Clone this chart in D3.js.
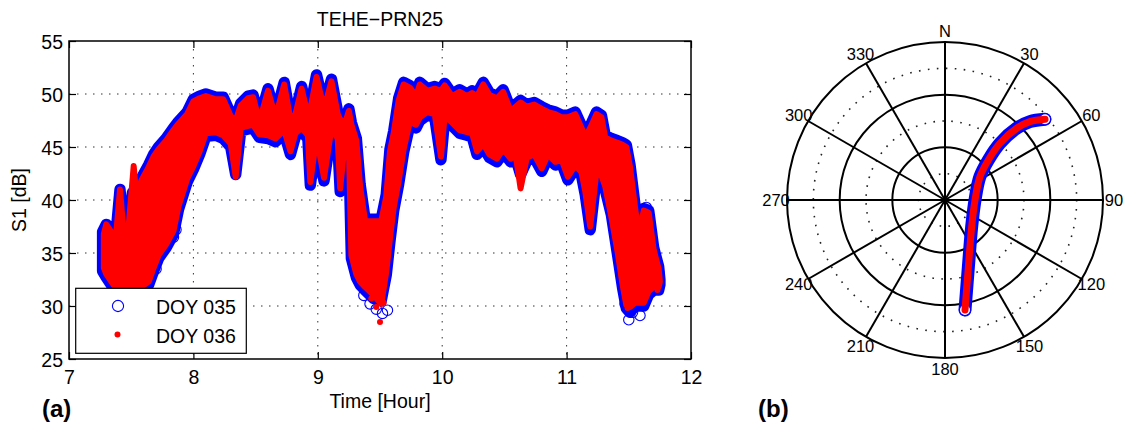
<!DOCTYPE html>
<html>
<head>
<meta charset="utf-8">
<script src="https://cdn.jsdelivr.net/npm/d3@7"></script>
<style>
  body { margin: 0; background: #fff; }
  svg text { font-family: "Liberation Sans", Arial, Helvetica, sans-serif; fill: #000; }
</style>
</head>
<body>
<svg id="fig" width="1125" height="426"></svg>
<script>
// ---- Panel (a): S1 signal strength, TEHE station, PRN25 ----
// Each row: [time (hour), upper S1 (dB), lower S1 (dB)] of the observed spread
const doy035Band = [
  [7.27,37.0,33.3],[7.30,37.7,32.7],[7.34,37.3,32.0],[7.37,35.8,31.5],[7.41,41.0,31.5],
  [7.44,37.0,31.5],[7.48,38.0,31.5],[7.51,40.7,31.5],[7.55,39.5,31.5],[7.58,42.0,31.5],
  [7.64,43.3,32.0],[7.68,44.3,33.3],[7.72,45.0,34.5],[7.78,45.8,35.5],[7.84,46.8,36.8],
  [7.88,47.4,39.1],[7.95,48.3,41.7],[8.00,49.5,42.9],[8.05,49.8,44.3],[8.10,50.0,46.0],
  [8.18,49.7,46.1],[8.24,49.7,45.8],[8.30,48.1,45.0],[8.34,47.7,42.4],[8.38,49.1,46.5],
  [8.44,49.8,46.7],[8.48,49.9,46.8],[8.53,47.6,45.9],[8.60,50.5,45.8],[8.66,48.0,45.5],
  [8.73,51.1,46.3],[8.78,47.8,44.3],[8.82,48.3,46.0],[8.87,50.7,46.5],[8.92,48.2,45.8],
  [8.94,48.8,41.4],[8.99,51.8,45.7],[9.05,48.8,41.8],[9.11,51.4,46.5],[9.16,48.3,45.5],
  [9.18,47.8,40.8],[9.22,47.5,45.5],[9.25,48.6,44.5],[9.27,47.3,34.5],[9.31,45.8,32.7],
  [9.34,41.5,32.0],[9.38,38.2,31.5],[9.45,38.2,30.7],[9.51,38.2,30.5],[9.55,40.5,32.9],
  [9.58,44.8,36.1],[9.61,46.5,39.0],[9.65,49.6,41.5],[9.69,51.1,44.5],[9.74,50.8,47.1],
  [9.79,50.0,46.8],[9.82,51.1,47.5],[9.88,50.5,48.0],[9.94,50.7,47.8],[9.99,50.5,43.8],
  [10.02,51.0,47.7],[10.08,50.0,47.0],[10.14,50.4,46.3],[10.20,50.0,46.1],[10.24,50.3,46.0],
  [10.28,50.0,44.3],[10.33,51.1,45.0],[10.38,50.1,44.0],[10.44,49.8,43.6],[10.49,50.4,44.5],
  [10.55,48.6,43.6],[10.59,49.0,44.0],[10.63,49.4,42.4],[10.68,49.0,43.7],[10.74,49.2,44.0],
  [10.80,48.8,42.7],[10.85,48.5,44.0],[10.91,48.3,43.3],[10.96,48.0,43.5],[11.01,48.0,41.9],
  [11.07,48.3,43.0],[11.12,47.0,42.3],[11.15,46.1,40.5],[11.19,47.0,37.2],[11.24,48.3,42.4],
  [11.28,48.0,42.0],[11.31,46.1,41.0],[11.36,45.8,38.6],[11.41,45.6,34.8],[11.45,45.4,31.7],
  [11.48,45.2,29.8],[11.51,43.3,29.4],[11.55,39.5,30.0],[11.58,37.0,30.0],[11.62,39.2,30.0],
  [11.66,39.0,31.1],[11.70,35.5,31.5],[11.74,33.7,31.5],[11.75,32.5,32.0]
];
const doy036Band = [
  [7.28,36.8,33.6],[7.30,37.7,33.0],[7.34,37.0,32.3],[7.37,35.5,31.8],[7.41,41.0,31.8],
  [7.44,36.8,31.8],[7.48,37.6,31.8],[7.52,43.2,31.8],[7.55,39.2,31.8],[7.58,41.8,31.8],
  [7.64,43.1,32.3],[7.68,44.1,33.6],[7.72,44.8,34.8],[7.78,45.6,35.8],[7.84,46.6,37.1],
  [7.88,47.2,39.4],[7.95,48.1,42.0],[8.00,49.3,43.2],[8.05,49.6,44.6],[8.10,49.8,46.3],
  [8.18,49.5,46.4],[8.24,49.5,46.1],[8.30,47.9,45.3],[8.34,47.5,42.2],[8.38,48.9,46.8],
  [8.44,49.6,47.0],[8.48,49.7,47.1],[8.53,47.4,46.2],[8.60,50.3,46.1],[8.66,47.8,45.8],
  [8.73,50.9,46.6],[8.78,47.6,44.6],[8.82,48.1,46.3],[8.87,50.5,46.8],[8.92,48.0,46.1],
  [8.94,48.6,41.7],[8.99,51.6,46.0],[9.05,48.6,42.1],[9.11,51.2,46.8],[9.16,48.1,45.8],
  [9.18,47.6,41.1],[9.22,47.3,45.8],[9.25,48.4,44.8],[9.27,47.1,34.8],[9.31,45.6,33.0],
  [9.34,41.3,32.3],[9.38,38.0,31.8],[9.45,38.0,31.0],[9.51,38.0,30.2],[9.55,40.3,33.2],
  [9.58,44.6,36.4],[9.61,46.3,39.3],[9.65,49.4,41.8],[9.69,50.9,44.8],[9.74,50.6,47.4],
  [9.79,49.8,47.1],[9.82,50.9,47.8],[9.88,50.3,48.3],[9.94,50.5,48.1],[9.99,50.3,44.1],
  [10.02,50.8,48.0],[10.08,49.8,47.3],[10.14,50.2,46.6],[10.20,49.8,46.4],[10.24,50.1,46.3],
  [10.28,49.8,44.6],[10.33,50.9,45.3],[10.38,49.9,44.3],[10.44,49.6,43.9],[10.49,50.2,44.8],
  [10.55,48.4,43.9],[10.59,48.8,44.3],[10.63,49.2,41.1],[10.68,48.8,44.0],[10.74,49.0,44.3],
  [10.80,48.6,43.0],[10.85,48.3,44.3],[10.91,48.1,43.6],[10.96,47.8,43.8],[11.01,47.8,42.2],
  [11.07,48.1,43.3],[11.12,46.8,42.6],[11.15,45.9,40.8],[11.19,46.8,37.5],[11.24,48.1,42.7],
  [11.28,47.8,42.3],[11.31,45.9,41.3],[11.36,45.6,38.4],[11.41,45.4,35.1],[11.45,45.2,32.0],
  [11.48,45.0,30.1],[11.51,43.1,29.9],[11.55,39.3,30.3],[11.58,36.8,30.3],[11.62,39.0,30.3],
  [11.66,38.8,31.4],[11.70,35.3,31.8],[11.74,33.5,31.8],[11.75,32.3,32.3]
];
// Isolated samples lying outside the main spread: [time, S1]
const doy035Points = [
  [7.66,33.0],[7.70,33.5],[7.84,36.5],[7.86,37.2],[9.37,31.0],[9.42,30.2],[9.44,31.3],
  [9.47,29.7],[9.52,29.3],[9.56,29.6],[11.47,30.2],[11.50,28.7],[11.53,29.4],[11.59,29.1],
  [11.64,39.3],[11.65,38.6],[11.73,34.0],[11.74,33.2]
];
const doy036Points = [
  [9.43,30.7],[9.47,29.9],[9.50,28.5],[9.53,30.3],[11.49,29.8],[11.54,30.4],[11.60,30.9],
  [11.70,32.3],[11.73,31.5]
];
const timeTicks = [7, 8, 9, 10, 11, 12];
const s1Ticks = [25, 30, 35, 40, 45, 50, 55];
const seriesNames = ["DOY 035", "DOY 036"];

// ---- Panel (b): sky track of PRN25 ----
const trackAzimuth   = [169.7, 160.7, 135.0, 90.0, 56.3, 47.3, 44.1, 45.0, 47.3, 51.1];
const trackElevation = [26.3, 49.7, 68.5, 72.9, 66.1, 56.4, 45.0, 32.2, 24.2, 16.8];
const azimuthSpokes = [0, 30, 60, 90, 120, 150, 180, 210, 240, 270, 300, 330];
const azimuthLabels = ["N", "30", "60", "90", "120", "150", "180", "210", "240", "270", "300", "330"];
const solidRings = [0, 30, 60];     // elevation (deg)
const dottedRings = [15, 45, 75];   // elevation (deg)

const BLUE = "#0000ff", RED = "#ff0000";
const svg = d3.select("#fig");

// ================= Panel (a) =================
const plotL = 69, plotR = 691, plotT = 41, plotB = 359;
const x = d3.scaleLinear().domain([7, 12]).range([plotL, plotR]);
const y = d3.scaleLinear().domain([25, 55]).range([plotB, plotT]);
const gA = svg.append("g");

// dotted grid
gA.append("g").selectAll("line").data(timeTicks.slice(1, -1)).join("line")
  .attr("x1", d => x(d)).attr("x2", d => x(d)).attr("y1", plotT).attr("y2", plotB)
  .attr("stroke", "#333").attr("stroke-width", 1).attr("stroke-dasharray", "1.5,6.5");
gA.append("g").selectAll("line").data(s1Ticks.slice(1, -1)).join("line")
  .attr("y1", d => y(d)).attr("y2", d => y(d)).attr("x1", plotL).attr("x2", plotR)
  .attr("stroke", "#333").attr("stroke-width", 1).attr("stroke-dasharray", "1.5,6.5");

const band = d3.area().x(d => x(d[0])).y0(d => y(d[2])).y1(d => y(d[1]));

// DOY 035: open blue circles (merged where dense)
gA.append("path").datum(doy035Band).attr("d", band)
  .attr("fill", BLUE).attr("stroke", BLUE).attr("stroke-width", 11.4)
  .attr("stroke-linejoin", "round").attr("stroke-linecap", "round");
gA.append("g").selectAll("circle").data(doy035Points).join("circle")
  .attr("cx", d => x(d[0])).attr("cy", d => y(d[1])).attr("r", 5.2)
  .attr("fill", "none").attr("stroke", BLUE).attr("stroke-width", 1.1);

// DOY 036: filled red dots
gA.append("path").datum(doy036Band).attr("d", band)
  .attr("fill", RED).attr("stroke", RED).attr("stroke-width", 6)
  .attr("stroke-linejoin", "round").attr("stroke-linecap", "round");
gA.append("g").selectAll("circle").data(doy036Points).join("circle")
  .attr("cx", d => x(d[0])).attr("cy", d => y(d[1])).attr("r", 3)
  .attr("fill", RED);

// axes (ticks pointing inward, MATLAB style)
const axB = gA.append("g").attr("transform", `translate(0,${plotB})`)
  .call(d3.axisBottom(x).tickValues(timeTicks).tickSize(-7).tickSizeOuter(0).tickPadding(11).tickFormat(d3.format("d")));
const axL = gA.append("g").attr("transform", `translate(${plotL},0)`)
  .call(d3.axisLeft(y).tickValues(s1Ticks).tickSize(-7).tickSizeOuter(0).tickPadding(6).tickFormat(d3.format("d")));
gA.append("g").attr("transform", `translate(0,${plotT})`)
  .call(d3.axisTop(x).tickValues(timeTicks).tickSize(-7).tickSizeOuter(0).tickFormat(""));
gA.append("g").attr("transform", `translate(${plotR},0)`)
  .call(d3.axisRight(y).tickValues(s1Ticks).tickSize(-7).tickSizeOuter(0).tickFormat(""));
gA.selectAll(".domain").remove();
gA.selectAll(".tick line").attr("stroke", "#000").attr("stroke-width", 1.2);
gA.selectAll(".tick text").attr("font-size", 19.5).attr("font-family", "Liberation Sans, Arial, sans-serif").attr("fill", "#000");
axL.selectAll(".tick text").attr("dy", "0.38em");
gA.append("rect").attr("x", plotL).attr("y", plotT).attr("width", plotR - plotL).attr("height", plotB - plotT)
  .attr("fill", "none").attr("stroke", "#000").attr("stroke-width", 1.5);

// titles
gA.append("text").attr("x", (plotL + plotR) / 2).attr("y", 26).attr("text-anchor", "middle")
  .attr("font-size", 19.5).text("TEHE\u2212PRN25");
gA.append("text").attr("x", (plotL + plotR) / 2).attr("y", 408).attr("text-anchor", "middle")
  .attr("font-size", 19.5).text("Time [Hour]");
gA.append("text").attr("transform", "translate(26,200) rotate(-90)").attr("text-anchor", "middle")
  .attr("font-size", 19.5).text("S1 [dB]");
svg.append("text").attr("x", 42).attr("y", 417).attr("font-size", 24).attr("font-weight", "bold").text("(a)");

// legend
const lg = gA.append("g");
lg.append("rect").attr("x", 75.7).attr("y", 288.3).attr("width", 170.6).attr("height", 65)
  .attr("fill", "#fff").attr("stroke", "#000").attr("stroke-width", 1.2);
lg.append("circle").attr("cx", 118).attr("cy", 306).attr("r", 5.6)
  .attr("fill", "none").attr("stroke", BLUE).attr("stroke-width", 1.1);
lg.append("circle").attr("cx", 117.5).attr("cy", 334.5).attr("r", 3).attr("fill", RED);
lg.selectAll("text.lbl").data(seriesNames).join("text").attr("class", "lbl")
  .attr("x", 156).attr("y", (d, i) => 314 + i * 29.3).attr("font-size", 19.5).text(d => d);

// ================= Panel (b) =================
const cx = 945, cy = 200, R = 158;
const rEl = d3.scaleLinear().domain([90, 0]).range([0, R]);
const gB = svg.append("g").attr("transform", `translate(${cx},${cy})`);
const rad = a => a * Math.PI / 180;

gB.selectAll("circle.dot").data(dottedRings).join("circle").attr("class", "dot")
  .attr("r", d => rEl(d)).attr("fill", "none").attr("stroke", "#222")
  .attr("stroke-width", 1.6).attr("stroke-dasharray", "1.6,7.4");
gB.selectAll("circle.solid").data(solidRings).join("circle").attr("class", "solid")
  .attr("r", d => rEl(d)).attr("fill", "none").attr("stroke", "#000").attr("stroke-width", 2);
gB.selectAll("line.spoke").data(azimuthSpokes).join("line").attr("class", "spoke")
  .attr("x1", 0).attr("y1", 0)
  .attr("x2", d => rEl(0) * Math.sin(rad(d))).attr("y2", d => -rEl(0) * Math.cos(rad(d)))
  .attr("stroke", "#000").attr("stroke-width", 2);
gB.selectAll("text.az").data(azimuthSpokes).join("text").attr("class", "az")
  .attr("x", d => (R + 11) * Math.sin(rad(d))).attr("y", d => -(R + 11) * Math.cos(rad(d)))
  .attr("text-anchor", "middle").attr("dy", "0.36em").attr("font-size", 16.5)
  .text((d, i) => azimuthLabels[i]);

const track = trackAzimuth.map((a, i) => [a, trackElevation[i]]);
const trackLine = d3.lineRadial().angle(d => rad(d[0])).radius(d => rEl(d[1])).curve(d3.curveCatmullRom);
gB.append("path").datum(track).attr("d", trackLine).attr("fill", "none")
  .attr("stroke", BLUE).attr("stroke-width", 13).attr("stroke-linecap", "round");
gB.selectAll("circle.end").data([track[0], track[track.length - 1]]).join("circle").attr("class", "end")
  .attr("cx", d => rEl(d[1]) * Math.sin(rad(d[0]))).attr("cy", d => -rEl(d[1]) * Math.cos(rad(d[0])))
  .attr("r", 5.6).attr("fill", "#fff").attr("stroke", BLUE).attr("stroke-width", 1.2);
gB.append("path").datum(track).attr("d", trackLine).attr("fill", "none")
  .attr("stroke", RED).attr("stroke-width", 7).attr("stroke-linecap", "round");

svg.append("text").attr("x", 758).attr("y", 417).attr("font-size", 24).attr("font-weight", "bold").text("(b)");
</script>
</body>
</html>
